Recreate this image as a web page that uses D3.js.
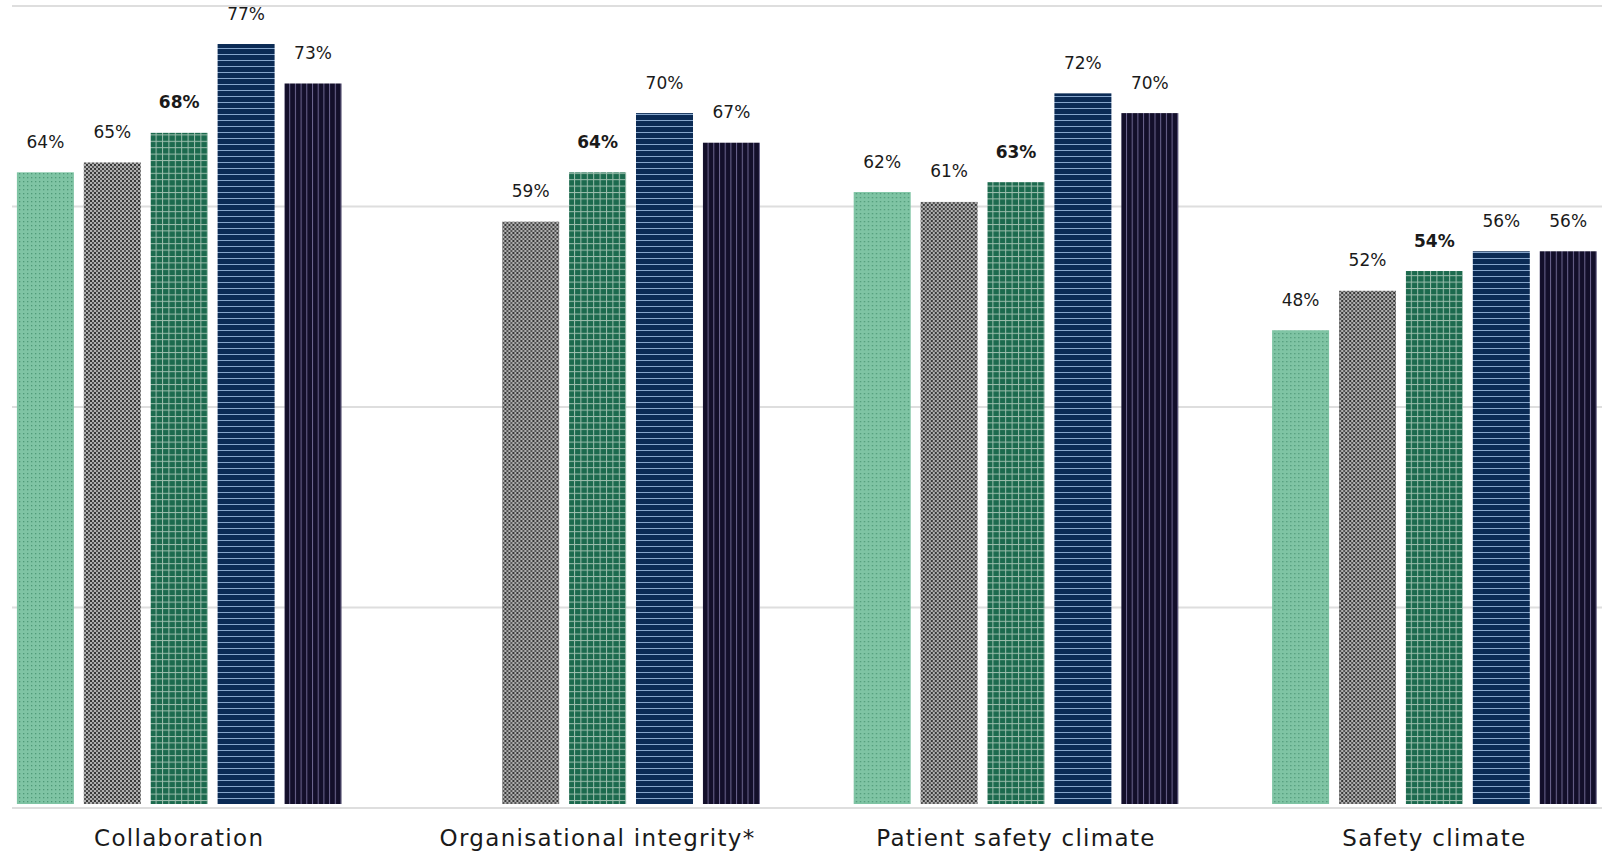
<!DOCTYPE html>
<html>
<head>
<meta charset="utf-8">
<script src="https://cdn.jsdelivr.net/npm/d3@7"></script>
<style>
  html, body { margin: 0; padding: 0; background: #ffffff; }
  svg { display: block; }
  text { font-family: "DejaVu Sans", "Noto Sans", sans-serif; fill: #1a1a1a; }
</style>
</head>
<body>
<svg id="chart" width="1609" height="852"></svg>
<script>
// ---- data ----
const categories = ["Collaboration", "Organisational integrity*", "Patient safety climate", "Safety climate"];
const seriesKeys = ["s1", "s2", "s3", "s4", "s5"];
const s1Values = [64, null, 62, 48];
const s2Values = [65, 59, 61, 52];
const s3Values = [68, 64, 63, 54];
const s4Values = [77, 70, 72, 56];
const s5Values = [73, 67, 70, 56];
const gridTicks = [0, 20, 40, 60, 80];
const boldSeries = "s3";

const seriesValues = { s1: s1Values, s2: s2Values, s3: s3Values, s4: s4Values, s5: s5Values };
const rows = categories.map((c, i) => ({
  category: c,
  values: seriesKeys.map(k => ({ key: k, value: seriesValues[k][i] }))
}));

const svg = d3.select("#chart");

// ---- patterns ----
const defs = svg.append("defs");
function pat(id, w, h, bg, draw) {
  const p = defs.append("pattern").attr("id", id).attr("patternUnits", "userSpaceOnUse")
    .attr("width", w).attr("height", h);
  p.append("rect").attr("width", w).attr("height", h).attr("fill", bg);
  draw(p);
}
pat("p-s1", 4, 4, "#7fc4a4", p => {
  p.append("rect").attr("x", 1).attr("y", 1).attr("width", 1.3).attr("height", 1.3).attr("fill", "#4f9a78");
});
pat("p-s2", 4, 4, "#b0b0b0", p => {
  p.append("rect").attr("x", 0).attr("y", 0).attr("width", 2).attr("height", 2).attr("fill", "#383838");
  p.append("rect").attr("x", 2).attr("y", 2).attr("width", 2).attr("height", 2).attr("fill", "#555555");
});
pat("p-s3", 6.4, 6.4, "#1c6a4e", p => {
  p.append("rect").attr("x", 0).attr("y", 0).attr("width", 6.4).attr("height", 1).attr("fill", "#9dbfae");
  p.append("rect").attr("x", 0).attr("y", 0).attr("width", 1).attr("height", 6.4).attr("fill", "#9dbfae");
});
pat("p-s4", 6, 6, "#0b2b55", p => {
  p.append("rect").attr("x", 0).attr("y", 0).attr("width", 6).attr("height", 1).attr("fill", "#86a6cc");
});
pat("p-s5", 5.7, 6, "#130f2a", p => {
  p.append("rect").attr("x", 0).attr("y", 0).attr("width", 1).attr("height", 6).attr("fill", "#6d6690");
});

// ---- scales ----
const x0 = d3.scaleBand().domain(categories).range([-30, 1643.6]).padding(0);
const x1 = d3.scaleBand().domain(seriesKeys)
  .range([(x0.bandwidth() - 324.6) / 2, (x0.bandwidth() + 324.6) / 2])
  .paddingInner(0.148).paddingOuter(0);
const y = d3.scaleLinear().domain([0, 80]).range([804, 14.4]);
const yGrid = d3.scaleLinear().domain([0, 80]).range([808, 6]);

// ---- gridlines ----
svg.append("g").selectAll("line").data(gridTicks).join("line")
  .attr("x1", 12).attr("x2", 1602)
  .attr("y1", d => yGrid(d)).attr("y2", d => yGrid(d))
  .attr("stroke", "#dedede").attr("stroke-width", 2);

// ---- bars ----
const groups = svg.append("g").selectAll("g").data(rows).join("g")
  .attr("transform", d => `translate(${x0(d.category)},0)`);

groups.selectAll("rect").data(d => d.values.filter(v => v.value != null)).join("rect")
  .attr("x", d => x1(d.key))
  .attr("width", x1.bandwidth())
  .attr("y", d => y(d.value))
  .attr("height", d => y(0) - y(d.value))
  .attr("fill", d => `url(#p-${d.key})`);

groups.selectAll("text.val").data(d => d.values.filter(v => v.value != null)).join("text")
  .attr("class", "val")
  .attr("x", d => x1(d.key) + x1.bandwidth() / 2)
  .attr("y", d => y(d.value) - 24.5)
  .attr("text-anchor", "middle")
  .attr("font-size", 17)
  .attr("font-weight", d => d.key === boldSeries ? 700 : 400)
  .text(d => d.value + "%");

// ---- category labels ----
svg.append("g").selectAll("text").data(categories).join("text")
  .attr("x", d => x0(d) + x0.bandwidth() / 2)
  .attr("y", 845.5)
  .attr("text-anchor", "middle")
  .attr("font-size", 23)
  .attr("letter-spacing", 1.3)
  .text(d => d);
</script>
</body>
</html>
